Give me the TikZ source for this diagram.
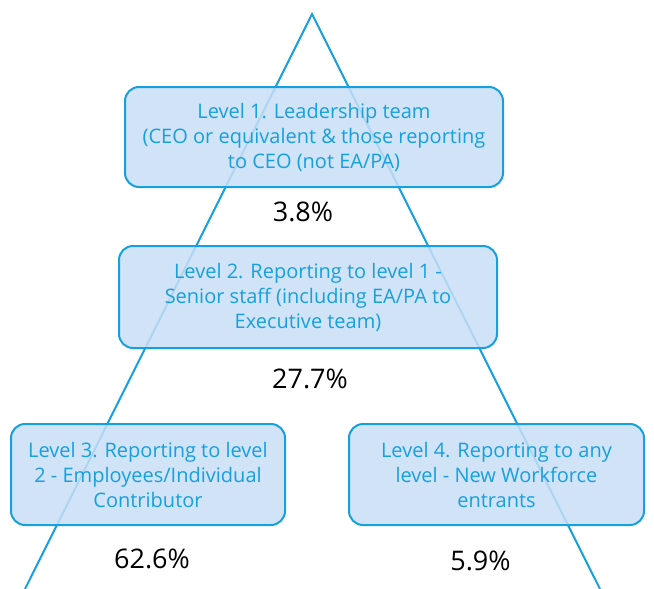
\documentclass[tikz,border=0pt]{standalone}
\usepackage{fontspec}
\setmainfont{Open Sans}
\usetikzlibrary{calc}
\definecolor{LevelBlue}{RGB}{22,160,222}
\definecolor{LevelFill}{RGB}{200,222,246}
\tikzset{%
	% Style of the level box
	LevelBox/.style={rectangle,rounded corners=14,draw=LevelBlue,line width=2,fill=LevelFill,fill opacity=0.85,text opacity=1,text=LevelBlue,align=center,font=\fontsize{20}{25}\selectfont,inner sep=0},
	% Style of the percentage label
	ShareName/.style={font=\fontsize{27}{30}\selectfont,black},
	% Style of the triangle side
	Side/.style={line width=2,draw=LevelBlue},
}
\begin{document}
\begin{tikzpicture}[x=1pt,y=-1pt]
\useasboundingbox (0,0) rectangle (654,589);

%~~~~~~~~~~~~~~~~~~~~~~~~~~~~~~~~~~~~~~~~~~~~~~~~~~
% Set Triangle
%~~~~~~~~~~~~~~~~~~~~~~~~~~~~~~~~~~~~~~~~~~~~~~~~~~
\coordinate (Apex) at (312, 14);
\coordinate (LeftFoot) at (25, 589);
\coordinate (RightFoot) at (600, 589);
\draw [Side] (LeftFoot) -- (Apex) -- (RightFoot);

%~~~~~~~~~~~~~~~~~~~~~~~~~~~~~~~~~~~~~~~~~~~~~~~~~~
% Set Levels
%~~~~~~~~~~~~~~~~~~~~~~~~~~~~~~~~~~~~~~~~~~~~~~~~~~
\node[LevelBox, minimum width=378, minimum height=100] (L1) at (314, 137) {Level 1. Leadership team\\(CEO or equivalent \& those reporting\\to CEO (not EA/PA)};
\node[ShareName] (S1) at ($ (L1) + (-11, 75) $) {3.8\%};

\node[LevelBox, minimum width=378, minimum height=102] (L2) at (308, 297) {Level 2. Reporting to level 1 -\\Senior staff (including EA/PA to\\Executive team)};
\node[ShareName] (S2) at ($ (L2) + (2, 82) $) {27.7\%};

\node[LevelBox, minimum width=274, minimum height=101] (L3) at (148, 474.5) {Level 3. Reporting to level\\2 - Employees/Individual\\Contributor};
\node[ShareName] (S3) at ($ (L3) + (4, 84) $) {62.6\%};

\node[LevelBox, minimum width=295, minimum height=101] (L4) at (496.5, 474.5) {Level 4. Reporting to any\\level - New Workforce\\entrants};
\node[ShareName] (S4) at ($ (L4) + (-16, 86) $) {5.9\%};

\end{tikzpicture}
\end{document}
